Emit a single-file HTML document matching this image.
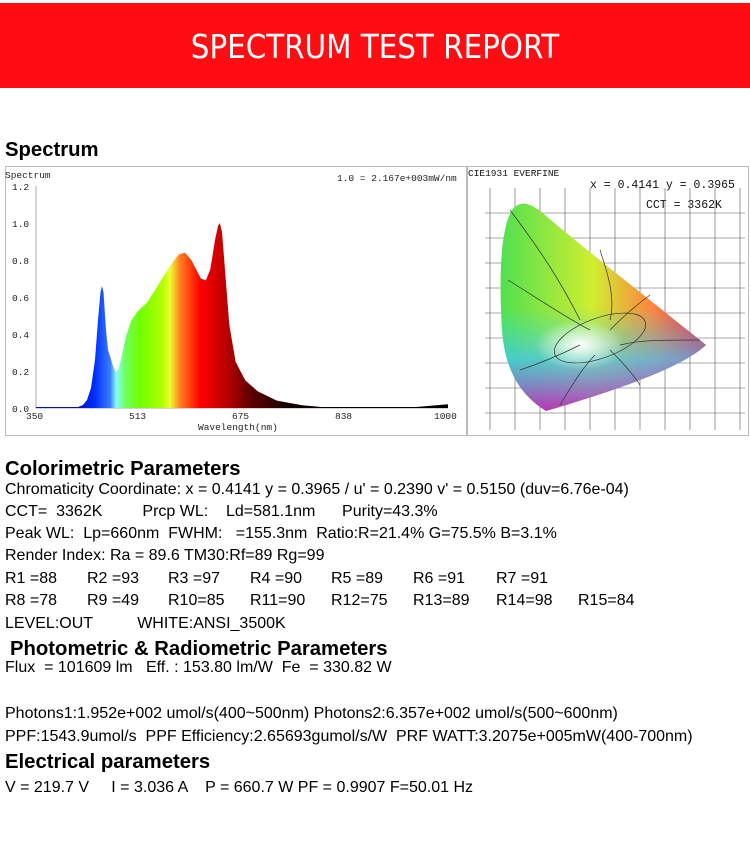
<!DOCTYPE html>
<html><head><meta charset="utf-8"><style>
body{margin:0;width:750px;height:852px;background:#fff;position:relative;overflow:hidden;font-family:"Liberation Sans",sans-serif;color:#000}
.band{position:absolute;left:0;top:3px;width:750px;height:85px;background:#ff0d12}
.title{position:absolute;left:0;width:750px;top:27px;text-align:center;color:#fff;font-family:"DejaVu Sans","Liberation Sans",sans-serif;font-size:33px;line-height:40px;transform:scaleX(0.89);font-weight:normal}
.h{position:absolute;left:5px;font-weight:bold;font-size:20.3px;line-height:22px}
.t{position:absolute;font-size:16px;line-height:18px;white-space:pre}
</style></head><body>
<div class="band"></div>
<div class="title">SPECTRUM TEST REPORT</div>
<div class="h" style="top:139px">Spectrum</div>

<svg style="position:absolute;left:0;top:0" width="750" height="440">
<defs>
<linearGradient id="sp" gradientUnits="userSpaceOnUse" x1="80" y1="0" x2="330" y2="0">
<stop offset="0" stop-color="#0010c0"/>
<stop offset="0.06" stop-color="#0030ff"/>
<stop offset="0.12" stop-color="#3a7bff"/>
<stop offset="0.145" stop-color="#80ffff"/>
<stop offset="0.18" stop-color="#70ff60"/>
<stop offset="0.24" stop-color="#70ff00"/>
<stop offset="0.33" stop-color="#b0ff00"/>
<stop offset="0.36" stop-color="#f0ff30"/>
<stop offset="0.40" stop-color="#ff8020"/>
<stop offset="0.48" stop-color="#ff0000"/>
<stop offset="0.60" stop-color="#b00000"/>
<stop offset="0.68" stop-color="#600000"/>
<stop offset="0.84" stop-color="#100000"/>
<stop offset="1" stop-color="#000"/>
</linearGradient>
<radialGradient id="w" cx="0.5" cy="0.5" r="0.5"><stop offset="0" stop-color="#fff"/><stop offset="1" stop-color="#fff" stop-opacity="0"/></radialGradient>
<linearGradient id="cg" x1="0" y1="0" x2="1" y2="0"><stop offset="0" stop-color="#50e050"/><stop offset="0.45" stop-color="#d0ee30"/><stop offset="0.75" stop-color="#ff8040"/><stop offset="1" stop-color="#ff1040"/></linearGradient>
<linearGradient id="cg2" x1="0" y1="0" x2="0" y2="1"><stop offset="0.5" stop-color="#30e0e0" stop-opacity="0"/><stop offset="0.75" stop-color="#40c0ff" stop-opacity="0.7"/><stop offset="1" stop-color="#c020c0" stop-opacity="0.9"/></linearGradient>
</defs>
<rect x="5.5" y="166.5" width="461" height="269" fill="#fff" stroke="#bbb"/>
<rect x="467.5" y="166.5" width="281" height="269" fill="#fff" stroke="#bbb"/>
<g font-family="Liberation Mono,monospace" font-size="9.5" fill="#222">
<text x="5" y="178">Spectrum</text>
<text x="337" y="181">1.0 = 2.167e+003mW/nm</text>
<text x="12" y="190">1.2</text><text x="12" y="227">1.0</text><text x="12" y="264">0.8</text>
<text x="12" y="301">0.6</text><text x="12" y="338">0.4</text><text x="12" y="375">0.2</text><text x="12" y="412">0.0</text>
<text x="26" y="419">350</text><text x="129" y="419">513</text><text x="232" y="419">675</text><text x="335" y="419">838</text><text x="434" y="419">1000</text>
<text x="198" y="430">Wavelength(nm)</text>
</g>
<line x1="36" y1="186" x2="36" y2="408" stroke="#888" stroke-width="0.7"/>
<line x1="36" y1="408" x2="448" y2="408" stroke="#888" stroke-width="0.7"/>
<path fill="url(#sp)" d="M36,407 L78,407 83,405 87,400 91,388 95,360 98,320 100.5,292 102,286 103.5,292 106,330 108,350 110,356 113,366 116,373 119,368 122,355 126,336 131,321 137,312 147,302.6 156.4,287.8 169.1,267.4 178.6,254.5 184.9,252.6 191.3,260 200.8,278.5 205.9,280.4 210.3,269.3 215,240 218,226 219.8,223 222,232 225,270 229.3,324.8 235.6,361.8 245.2,380.3 257.8,391.4 276.8,400.6 302.2,405.2 321.2,407 416.3,407 448,404.3 448,408 36,408Z"/>
<g font-family="Liberation Mono,monospace" fill="#111">
<text x="468" y="176" font-size="9.5">CIE1931  EVERFINE</text>
<text x="590" y="188" font-size="11.5">x = 0.4141 y = 0.3965</text>
<text x="646" y="208" font-size="11.5">CCT = 3362K</text>
</g>
<g stroke="#555" stroke-width="0.6">
<line x1="490" y1="188" x2="490" y2="430"/><line x1="515" y1="188" x2="515" y2="430"/><line x1="540" y1="188" x2="540" y2="430"/><line x1="565" y1="188" x2="565" y2="430"/><line x1="590" y1="188" x2="590" y2="430"/><line x1="615" y1="188" x2="615" y2="430"/><line x1="640" y1="188" x2="640" y2="430"/><line x1="665" y1="188" x2="665" y2="430"/><line x1="690" y1="188" x2="690" y2="430"/><line x1="715" y1="188" x2="715" y2="430"/><line x1="740" y1="188" x2="740" y2="430"/>
<line x1="485" y1="213" x2="745" y2="213"/><line x1="485" y1="238" x2="745" y2="238"/><line x1="485" y1="263" x2="745" y2="263"/><line x1="485" y1="288" x2="745" y2="288"/><line x1="485" y1="313" x2="745" y2="313"/><line x1="485" y1="338" x2="745" y2="338"/><line x1="485" y1="363" x2="745" y2="363"/><line x1="485" y1="388" x2="745" y2="388"/><line x1="485" y1="413" x2="745" y2="413"/>
</g>
<path fill="url(#cg)" d="M546,411 C520,395 505,370 502,330 C499,280 500,230 512,210 C520,200 530,202 545,215 C580,245 650,300 706,345 C680,370 600,395 546,411Z"/>
<path fill="url(#cg2)" d="M546,411 C520,395 505,370 502,330 C499,280 500,230 512,210 C520,200 530,202 545,215 C580,245 650,300 706,345 C680,370 600,395 546,411Z"/>
<ellipse cx="580" cy="345" rx="45" ry="25" fill="url(#w)"/>
<g stroke="#333" stroke-width="0.7" fill="none">
<ellipse cx="600" cy="338" rx="48" ry="20" transform="rotate(-20 600 338)"/>
<path d="M508,280 C540,300 570,320 590,330 M510,210 C540,250 560,280 580,320 M600,250 C610,280 615,300 610,320 M650,295 C630,310 620,320 610,330 M700,340 C660,340 640,340 620,345 M520,370 C550,360 570,350 580,345 M560,405 C575,380 585,365 595,355 M640,385 C630,370 620,360 610,350"/>
</g>
</svg>

<div class="h" style="top:458px">Colorimetric Parameters</div>
<div class="t" style="left:5px;top:481px">Chromaticity Coordinate: x = 0.4141 y = 0.3965 / u' = 0.2390 v' = 0.5150 (duv=6.76e-04)</div>
<div class="t" style="left:5px;top:503px">CCT=  3362K         Prcp WL:    Ld=581.1nm      Purity=43.3%</div>
<div class="t" style="left:5px;top:525px">Peak WL:  Lp=660nm  FWHM:   =155.3nm  Ratio:R=21.4% G=75.5% B=3.1%</div>
<div class="t" style="left:5px;top:547px">Render Index: Ra = 89.6 TM30:Rf=89 Rg=99</div>
<div class="t" style="left:5px;top:570px">R1 =88</div><div class="t" style="left:87px;top:570px">R2 =93</div><div class="t" style="left:168px;top:570px">R3 =97</div><div class="t" style="left:250px;top:570px">R4 =90</div><div class="t" style="left:331px;top:570px">R5 =89</div><div class="t" style="left:413px;top:570px">R6 =91</div><div class="t" style="left:496px;top:570px">R7 =91</div>
<div class="t" style="left:5px;top:592px">R8 =78</div><div class="t" style="left:87px;top:592px">R9 =49</div><div class="t" style="left:168px;top:592px">R10=85</div><div class="t" style="left:250px;top:592px">R11=90</div><div class="t" style="left:331px;top:592px">R12=75</div><div class="t" style="left:413px;top:592px">R13=89</div><div class="t" style="left:496px;top:592px">R14=98</div><div class="t" style="left:578px;top:592px">R15=84</div>
<div class="t" style="left:5px;top:615px">LEVEL:OUT          WHITE:ANSI_3500K</div>
<div class="h" style="top:638px;left:10px">Photometric &amp; Radiometric Parameters</div>
<div class="t" style="left:5px;top:659px">Flux  = 101609 lm   Eff. : 153.80 lm/W  Fe  = 330.82 W</div>
<div class="t" style="left:5px;top:705px">Photons1:1.952e+002 umol/s(400~500nm) Photons2:6.357e+002 umol/s(500~600nm)</div>
<div class="t" style="left:5px;top:728px">PPF:1543.9umol/s  PPF Efficiency:2.65693gumol/s/W  PRF WATT:3.2075e+005mW(400-700nm)</div>
<div class="h" style="top:751px">Electrical parameters</div>
<div class="t" style="left:5px;top:779px">V = 219.7 V     I = 3.036 A    P = 660.7 W PF = 0.9907 F=50.01 Hz</div>
</body></html>
